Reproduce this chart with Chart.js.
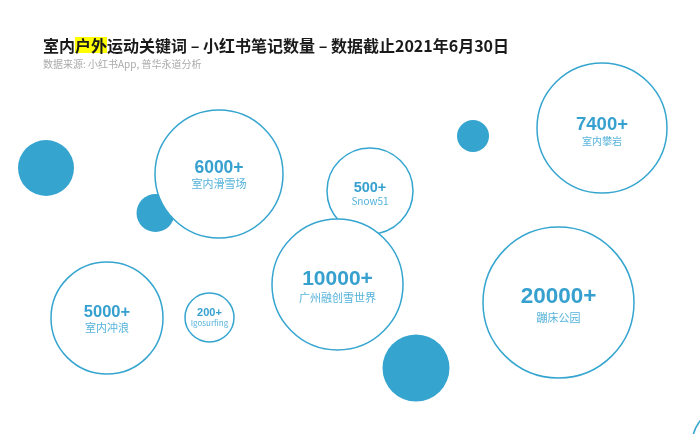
<!DOCTYPE html>
<html>
<head>
<meta charset="utf-8">
<script src="https://cdn.jsdelivr.net/npm/chart.js@4/dist/chart.umd.min.js"></script>
<style>
  html, body { margin:0; padding:0; background:#fff; }
  #wrap { position:relative; width:700px; height:434px; overflow:hidden; }
  #chart { position:absolute; left:0; top:0; }
  #title { position:absolute; left:43px; top:35px; font:bold 16px "Noto Sans CJK SC", sans-serif; color:#1a1a1a; line-height:20px; white-space:nowrap; }
  #title .hl { background:#ffff00; display:inline-block; height:16px; line-height:16px; }
  #sub { position:absolute; left:43px; top:57px; font:10px "Noto Sans CJK SC", sans-serif; color:#aaa; line-height:14px; white-space:nowrap; }
</style>
</head>
<body>
<div id="wrap">
  <canvas id="chart" width="700" height="434"></canvas>
  <div id="title">室内<span class="hl">户外</span>运动关键词 – 小红书笔记数量 – 数据截止2021年6月30日</div>
  <div id="sub">数据来源: 小红书App, 普华永道分析</div>
</div>
<script>
// 关键词气泡（白底蓝边）
const keywords = ['室内冲浪', 'Igosurfing', '室内滑雪场', 'Snow51', '广州融创雪世界', '蹦床公园', '室内攀岩', ''];
const counts   = ['5000+', '200+', '6000+', '500+', '10000+', '20000+', '7400+', ''];
const bubbleX  = [107, 209.5, 219, 370, 337.5, 558.5, 602, 732];
const bubbleY  = [318, 317.5, 174, 191, 284.5, 302.5, 128, 445];
const bubbleR  = [56, 24.5, 64, 43, 65.5, 75.5, 65, 40];

// 装饰实心圆
const dotX = [46, 155.5, 473, 416];
const dotY = [168, 213, 136, 368];
const dotR = [28, 19, 16, 33.5];

const BLUE = '#35a5d0';

// per-bubble text sizes / offsets
const valueFont = [16.5, 11, 17.5, 14.5, 21, 22.5, 18.5, 0];
const labelFont = [11, 8, 11, 10, 11, 11, 10, 0];
const valueDy   = [-6, -4.5, -6, -3, -5.5, -5.5, -3, 0];
const labelDy   = [10, 5.5, 10, 10, 13.5, 15.5, 13, 0];

const labelPlugin = {
  id: 'bubbleText',
  afterDatasetsDraw(chart){
    const meta = chart.getDatasetMeta(0);
    const ctx = chart.ctx;
    ctx.save();
    ctx.textAlign = 'center';
    ctx.textBaseline = 'middle';
    meta.data.forEach((pt, i) => {
      if (!counts[i]) return;
      ctx.fillStyle = '#36a0cf';
      ctx.font = `bold ${valueFont[i]}px "Liberation Sans", Arial, sans-serif`;
      ctx.fillText(counts[i], pt.x, pt.y + valueDy[i]);
      ctx.fillStyle = '#55b2da';
      ctx.font = `${labelFont[i]}px "Noto Sans CJK SC", sans-serif`;
      ctx.fillText(keywords[i], pt.x, pt.y + labelDy[i]);
    });
    ctx.restore();
  }
};

new Chart(document.getElementById('chart'), {
  type: 'bubble',
  data: {
    datasets: [
      {
        label: '笔记数量',
        order: 1,
        clip: false,
        data: bubbleX.map((x, i) => ({ x, y: bubbleY[i], r: bubbleR[i] })),
        backgroundColor: '#ffffff',
        borderColor: BLUE,
        borderWidth: 1.5
      },
      {
        label: 'dots',
        order: 2,
        clip: false,
        data: dotX.map((x, i) => ({ x, y: dotY[i], r: dotR[i] })),
        backgroundColor: BLUE,
        borderColor: BLUE,
        borderWidth: 0
      }
    ]
  },
  options: {
    responsive: false,
    animation: false,
    layout: { padding: 0, autoPadding: false },
    plugins: { legend: { display: false }, tooltip: { enabled: false }, title: { display: false } },
    scales: {
      x: { type: 'linear', min: 0, max: 700, display: false },
      y: { type: 'linear', min: 0, max: 434, reverse: true, display: false }
    }
  },
  plugins: [labelPlugin]
});
</script>
</body>
</html>
